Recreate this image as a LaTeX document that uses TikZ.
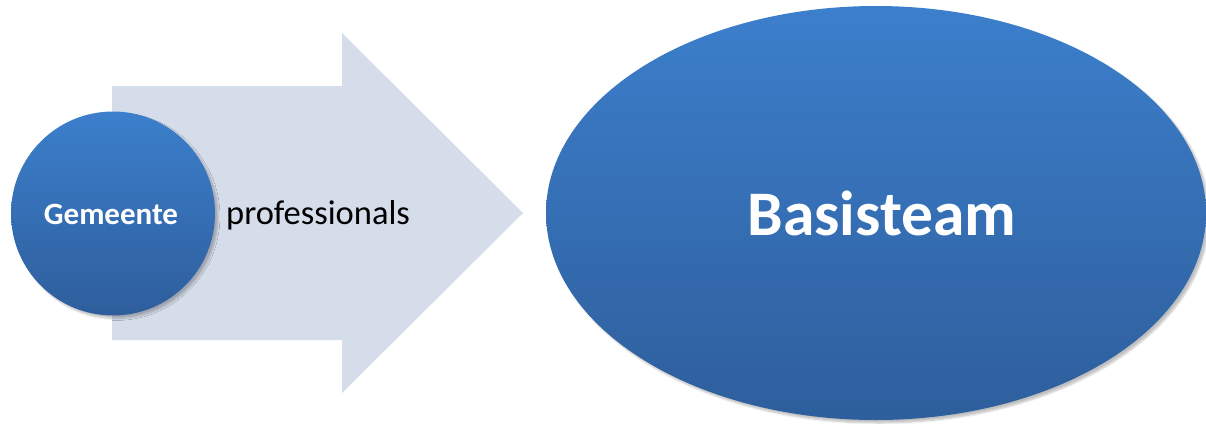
\documentclass[tikz,border=0pt]{standalone}
\usepackage{fontspec}
\setmainfont{Carlito}
\usetikzlibrary{shapes.geometric,shadows.blur}
\definecolor{arrowfill}{HTML}{D5DCEA}
\definecolor{bluetop}{HTML}{3C7FCC}
\definecolor{bluebot}{HTML}{2E5E9C}
\tikzset{
  bluebody/.style={shading=axis, top color=bluetop, bottom color=bluebot, shading angle=0,
    blur shadow={shadow xshift=3pt, shadow yshift=-3pt, shadow blur steps=6, shadow opacity=25}},
  label/.style={inner sep=0pt, font=\bfseries, text=white}
}
\begin{document}
\begin{tikzpicture}[x=1pt,y=-1pt]
\useasboundingbox (0,0) rectangle (1206,423);
% big arrow
\fill[arrowfill] (112,86) -- (342,86) -- (342,33) -- (523,213) -- (342,393) -- (342,340) -- (112,340) -- cycle;
% circle
\node[circle, bluebody, minimum size=204pt, inner sep=0pt] (gem) at (113,213.5) {};
\node[label, font=\fontsize{31}{36}\selectfont\bfseries, anchor=base] (gemtxt) at (111,224.5) {Gemeente};
\node[inner sep=0pt, anchor=base west, font=\fontsize{34.5}{40}\selectfont] (prof) at (226,224) {professionals};
% ellipse
\node[ellipse, bluebody, minimum width=660pt, minimum height=414pt, inner sep=0pt] (basis) at (876,213) {};
\node[label, font=\fontsize{63.5}{70}\selectfont\bfseries, anchor=base] (bastxt) at (882,235) {Basisteam};
\end{tikzpicture}
\end{document}
